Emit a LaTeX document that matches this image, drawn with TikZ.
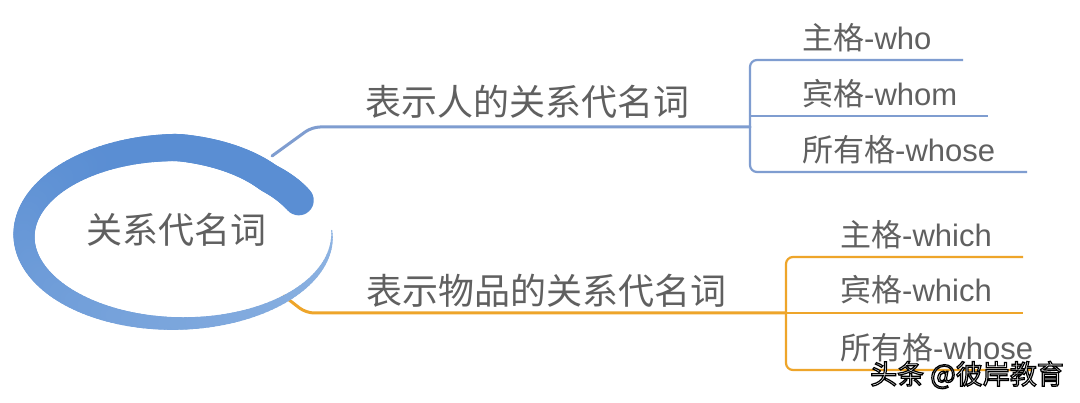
\documentclass[tikz,border=0pt]{standalone}
\usepackage{fontspec}
\setmainfont{Liberation Sans}
\newfontfamily\cjk{Noto Sans CJK SC}
\definecolor{txt}{HTML}{606060}
\definecolor{ellA}{HTML}{5A8ED3}
\definecolor{ellB}{HTML}{8FB4E2}
\definecolor{blueline}{HTML}{7F9DD0}
\definecolor{orangeline}{HTML}{EEA52A}
\tikzset{
  rootlbl/.style={font=\cjk\fontsize{36}{40}\selectfont, text=txt, inner sep=0pt},
  branchlbl/.style={font=\cjk\fontsize{36}{40}\selectfont, text=txt, inner sep=0pt},
  leaflbl/.style={font=\fontsize{31}{34}\selectfont, text=txt, inner sep=0pt, anchor=west},
  bluebranch/.style={draw=blueline, line width=3pt, rounded corners=8pt, line cap=round},
  blueleaf/.style={draw=blueline, line width=2.2pt, rounded corners=7pt},
  orangebranch/.style={draw=orangeline, line width=3pt, rounded corners=8pt, line cap=round},
  orangeleaf/.style={draw=orangeline, line width=2.2pt, rounded corners=7pt},
  wmark/.style={font=\cjk\fontsize{27}{30}\selectfont, inner sep=0pt},
}
\begin{document}
\begin{tikzpicture}[x=1pt,y=1pt]
\useasboundingbox (0,0) rectangle (1080,402);
\fill[white] (0,0) rectangle (1080,402);

% coordinates for the blue branch
\coordinate (bA) at (272,246);
\coordinate (bB) at (312,275);
\coordinate (bJ) at (750,275);
\coordinate (bTL) at (750,342);
\coordinate (bBL) at (750,230);
\coordinate (bM) at (750,286);
\coordinate (bTe) at (963,342);
\coordinate (bMe) at (988,286);
\coordinate (bBe) at (1027,230);

% coordinates for the orange branch
\coordinate (oA) at (284,106);
\coordinate (oB) at (306,89);
\coordinate (oJ) at (786,89);
\coordinate (oTL) at (786,145);
\coordinate (oBL) at (786,32);
\coordinate (oTe) at (1023,145);
\coordinate (oMe) at (1023,89);
\coordinate (oBe) at (1032,32);

% lines
\draw[bluebranch] (bA) -- (bB) -- (bJ);
\draw[blueleaf] (bTe) -- (bTL) -- (bBL) -- (bBe);
\draw[blueleaf] (bM) -- (bMe);
\draw[orangebranch] (oA) -- (oB) -- (oJ);
\draw[orangeleaf] (oTe) -- (oTL) -- (oBL) -- (oBe);
\draw[orangeleaf] (oJ) -- (oMe);

% brush ellipse (tapered stroke, curling inward at its start)
\foreach \a in {27,29,...,361} {
  \pgfmathsetmacro{\b}{\a+2.3}
  \pgfmathsetmacro{\t}{(362-\a)/335}
  \pgfmathsetmacro{\w}{1+29*\t*(1.6-0.6*\t)}
  \pgfmathtruncatemacro{\p}{min(100,140*\t)}
  \pgfmathsetmacro{\ra}{1-0.12*max(0,min(1,(90-\a)/42))}
  \pgfmathsetmacro{\rb}{1-0.12*max(0,min(1,(90-\b)/42))}
  \pgfmathsetmacro{\xs}{178+154*\ra*cos(\a)}
  \pgfmathsetmacro{\ys}{166.5+88*\ra*sin(\a)}
  \pgfmathsetmacro{\xe}{178+154*\rb*cos(\b)}
  \pgfmathsetmacro{\ye}{166.5+88*\rb*sin(\b)}
  \draw[line width=\w pt, line cap=round, color=ellA!\p!ellB]
    (\xs,\ys) -- (\xe,\ye);
}

% texts
\node[rootlbl] (root) at (176,172) {关系代名词};
\node[branchlbl] (person) at (527,300) {表示人的关系代名词};
\node[branchlbl] (thing) at (546,111) {表示物品的关系代名词};

\node[leaflbl] (p1) at (802,364) {{\cjk 主格}-who};
\node[leaflbl] (p2) at (802,308) {{\cjk 宾格}-whom};
\node[leaflbl] (p3) at (802,252) {{\cjk 所有格}-whose};

\node[leaflbl] (t1) at (840,167) {{\cjk 主格}-which};
\node[leaflbl] (t2) at (840,112) {{\cjk 宾格}-which};
\node[leaflbl] (t3) at (840,54) {{\cjk 所有格}-whose};

% watermark: white text with a dark outline
\node[wmark, text=white] (wm) at (967,27)
  {\special{pdf:literal direct 0 G 2 Tr 1.2 w}头条 @彼岸教育\special{pdf:literal direct 0 Tr}};
\end{tikzpicture}
\end{document}
